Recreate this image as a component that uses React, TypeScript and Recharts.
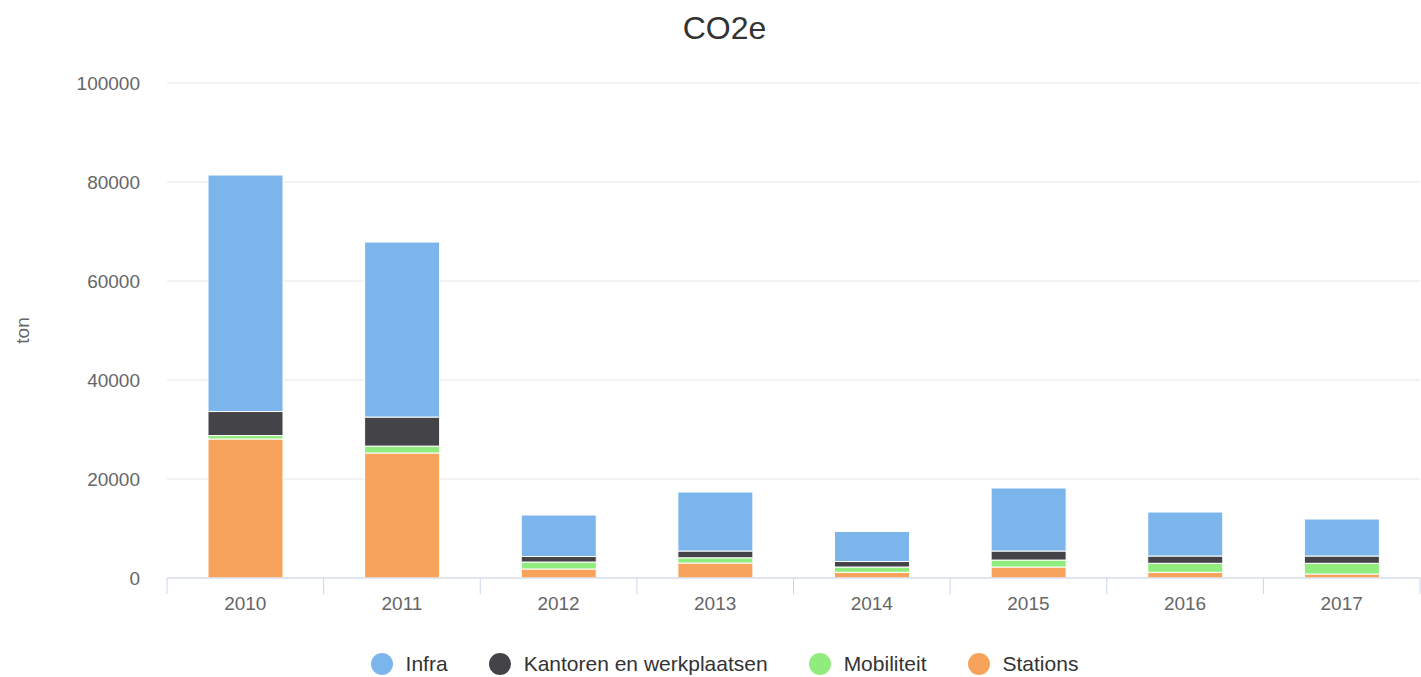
import { BarChart, Bar, XAxis, YAxis, CartesianGrid, Legend } from "recharts";

const years = ["2010", "2011", "2012", "2013", "2014", "2015", "2016", "2017"];
const infra = [47780, 35350, 8380, 11920, 6060, 12730, 8890, 7470];
const kantoren = [4850, 5860, 1110, 1370, 1110, 1820, 1470, 1470];
const mobiliteit = [700, 1400, 1410, 1050, 1070, 1410, 1820, 2160];
const stations = [28080, 25250, 1820, 3030, 1150, 2220, 1150, 810];
const yTicks = [0, 20000, 40000, 60000, 80000, 100000];

// stacking order bottom -> top
const series = [
  { key: "stations", name: "Stations", color: "#f7a35c" },
  { key: "mobiliteit", name: "Mobiliteit", color: "#90ed7d" },
  { key: "kantoren", name: "Kantoren en werkplaatsen", color: "#434348" },
  { key: "infra", name: "Infra", color: "#7cb5ec" },
];

const data = years.map((year, i) => ({
  year,
  infra: infra[i],
  kantoren: kantoren[i],
  mobiliteit: mobiliteit[i],
  stations: stations[i],
}));

const FONT = '"Liberation Sans", Arial, Helvetica, sans-serif';
const W = 1421;
const H = 677;
const Y_AXIS_W = 167;
const MARGIN = { top: 83, right: 1, bottom: 0, left: 0 };
const TICK_MARGIN = 19;
const band = (W - Y_AXIS_W - MARGIN.left - MARGIN.right) / years.length;

// category label plus Highcharts-style tick marks on the category edges
function YearTick(props: any) {
  const { x, y, payload, index } = props;
  const axisY = y - TICK_MARGIN;
  const isLast = index === years.length - 1;
  return (
    <g>
      <line x1={x - band / 2} x2={x - band / 2} y1={axisY} y2={axisY + 16} stroke="#ccd6eb" />
      {isLast && (
        <line x1={x + band / 2} x2={x + band / 2} y1={axisY} y2={axisY + 16} stroke="#ccd6eb" />
      )}
      <text x={x} y={y} dy="0.71em" textAnchor="middle" fill="#666" fontSize={19}>
        {payload.value}
      </text>
    </g>
  );
}

function LegendContent() {
  const items = [...series].reverse();
  return (
    <div
      style={{
        display: "flex",
        justifyContent: "center",
        alignItems: "center",
        height: 26,
        paddingLeft: 29,
        fontFamily: FONT,
      }}
    >
      {items.map((s, i) => (
        <div
          key={s.key}
          style={{ display: "flex", alignItems: "center", marginLeft: i === 0 ? 0 : 41 }}
        >
          <span
            style={{
              width: 22,
              height: 22,
              borderRadius: "50%",
              background: s.color,
              display: "inline-block",
              marginRight: 13,
            }}
          />
          <span style={{ fontSize: 21, color: "#333" }}>{s.name}</span>
        </div>
      ))}
    </div>
  );
}

export default function App() {
  return (
    <div
      style={{
        position: "absolute",
        left: 0,
        top: 0,
        width: W,
        height: H,
        background: "#fff",
        fontFamily: FONT,
      }}
    >
      <div
        style={{
          position: "absolute",
          top: 8,
          left: 0,
          width: 1449,
          textAlign: "center",
          fontSize: 32,
          color: "#333",
          lineHeight: "40px",
        }}
      >
        CO2e
      </div>
      <BarChart width={W} height={H} data={data} margin={MARGIN}>
        <CartesianGrid vertical={false} stroke="#e6e6e6" />
        <XAxis
          dataKey="year"
          axisLine={{ stroke: "#ccd6eb" }}
          tickLine={false}
          tickSize={0}
          tickMargin={TICK_MARGIN}
          height={73}
          interval={0}
          tick={<YearTick />}
        />
        <YAxis
          width={Y_AXIS_W}
          domain={[0, 100000]}
          ticks={yTicks}
          axisLine={false}
          tickLine={false}
          tickSize={0}
          tickMargin={27}
          tick={{ fill: "#666", fontSize: 19 }}
          label={{
            value: "ton",
            angle: -90,
            position: "insideLeft",
            offset: 22,
            style: { textAnchor: "middle", fill: "#666", fontSize: 19 },
          }}
        />
        <Legend verticalAlign="bottom" content={<LegendContent />} />
        {series.map((s) => (
          <Bar
            key={s.key}
            dataKey={s.key}
            name={s.name}
            stackId="a"
            fill={s.color}
            stroke="#fff"
            strokeWidth={1}
            barSize={75}
            isAnimationActive={false}
          />
        ))}
      </BarChart>
    </div>
  );
}
